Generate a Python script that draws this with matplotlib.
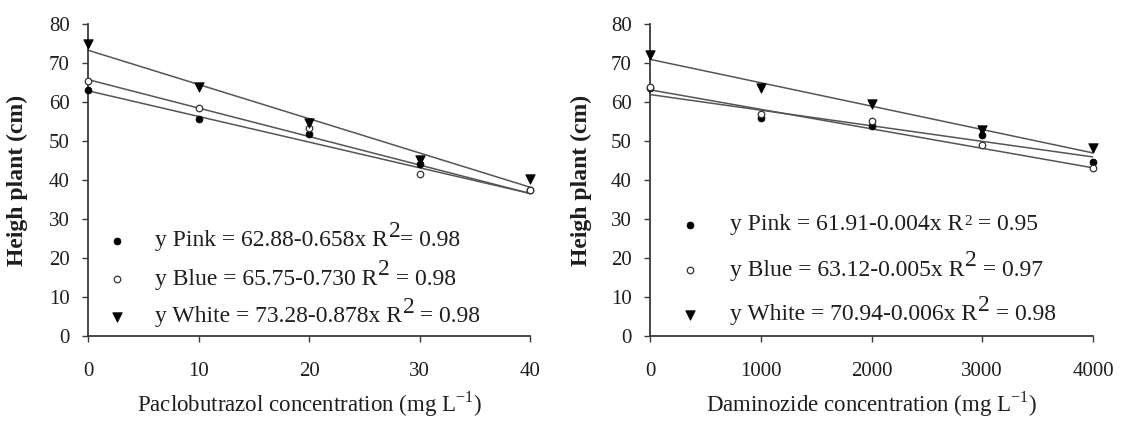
import matplotlib
matplotlib.use("Agg")
import matplotlib.pyplot as plt
import numpy as np

# Paclobutrazol doses (mg L-1) and plant heights (cm)
pac_dose = [0, 10, 20, 30, 40]
pac_pink = [63.1, 55.6, 51.7, 44.0, 37.4]
pac_blue = [65.5, 58.5, 53.3, 41.5, 37.5]
pac_white = [74.9, 63.9, 54.6, 45.0, 40.3]

# Daminozide doses (mg L-1) and plant heights (cm)
dam_dose = [0, 1000, 2000, 3000, 4000]
dam_pink = [63.5, 55.8, 53.8, 51.5, 44.7]
dam_blue = [63.9, 56.8, 55.1, 49.1, 43.2]
dam_white = [72.0, 63.7, 59.4, 52.8, 48.3]

# Regression coefficients (intercept, slope)
pac_fit = {"Pink": (62.88, -0.658), "Blue": (65.75, -0.730), "White": (73.28, -0.878)}
dam_fit = {"Pink": (61.91, -0.004), "Blue": (63.12, -0.005), "White": (70.94, -0.006)}

# Equation labels: text before the exponent, exponent, text after, exponent size
pac_eq = [
    ("y Pink = 62.88-0.658x R", "2", "= 0.98", 17),
    ("y Blue = 65.75-0.730 R", "2", " = 0.98", 17),
    ("y White = 73.28-0.878x R", "2", " = 0.98", 17),
]
dam_eq = [
    ("y Pink = 61.91-0.004x R", "2", " = 0.95", 11),
    ("y Blue = 63.12-0.005x R", "2", " = 0.97", 17),
    ("y White = 70.94-0.006x R", "2", " = 0.98", 17),
]

yticks = [0, 10, 20, 30, 40, 50, 60, 70, 80]
pac_xticks = [0, 10, 20, 30, 40]
dam_xticks = [0, 1000, 2000, 3000, 4000]

plt.rcParams["font.family"] = ["Liberation Serif", "DejaVu Serif"]
plt.rcParams["mathtext.fontset"] = "custom"
plt.rcParams["mathtext.rm"] = "Liberation Serif"

TXT = "#1e1e1e"
LINE = "#555555"
AX = "#3a3a3a"
EQ_SIZE = 17

fig = plt.figure(figsize=(11.26, 4.23), dpi=100)
W, H = 1126, 423


def make_axes(x0, x1):
    return fig.add_axes([x0 / W, 1 - 336 / H, (x1 - x0) / W, 312 / H])


ax1 = make_axes(88, 530)
ax2 = make_axes(650, 1093)

styles = {
    "Pink": dict(marker="o", s=24, facecolor="black", edgecolor="black", linewidths=0.6),
    "Blue": dict(marker="o", s=22, facecolor="white", edgecolor="#333333", linewidths=0.9),
    "White": dict(marker="v", s=46, facecolor="black", edgecolor="black", linewidths=0.6),
}


def panel(ax, dose, series, fit, eqs, xticks, xlabel, mk_x, txt_x, rows, ylab_x):
    xmax = xticks[-1]
    xx = np.array([0, xmax], dtype=float)
    for name in ["Pink", "Blue", "White"]:
        b0, b1 = fit[name]
        ax.plot(xx, b0 + b1 * xx, color=LINE, lw=1.1, zorder=2)
    for name, vals in series.items():
        ax.scatter(dose, vals, zorder=3, clip_on=False, **styles[name])

    names = ["Pink", "Blue", "White"]
    for (base, sup, tail, ssz), name, yv in zip(eqs, names, rows):
        ax.scatter([mk_x], [yv], zorder=3, clip_on=False, **styles[name])
        t = ax.text(txt_x, yv, base, fontsize=EQ_SIZE, color=TXT,
                    va="center", ha="left")
        raise_pts = 7 if ssz >= 14 else 5
        s = ax.annotate(sup, xy=(1, 0), xycoords=t, xytext=(0.5, raise_pts),
                        textcoords="offset points", fontsize=ssz, color=TXT,
                        va="bottom", ha="left")
        ax.annotate(tail, xy=(1, 0), xycoords=s, xytext=(0, -raise_pts),
                    textcoords="offset points", fontsize=EQ_SIZE, color=TXT,
                    va="bottom", ha="left")

    ax.set_xlim(0, xmax)
    ax.set_ylim(0, 80)
    ax.set_xticks(xticks)
    ax.set_yticks(yticks)
    for sp in ["top", "right"]:
        ax.spines[sp].set_visible(False)
    for sp in ["left", "bottom"]:
        ax.spines[sp].set_color(AX)
        ax.spines[sp].set_linewidth(1.3)
    ax.tick_params(axis="both", direction="out", length=4, width=1,
                   color=AX, labelsize=15, labelcolor=TXT)
    ax.tick_params(axis="x", pad=15)
    ax.tick_params(axis="y", pad=9)
    ax.set_ylabel("Heigh plant (cm)", fontsize=17, fontweight="bold", color=TXT)
    ax.yaxis.set_label_coords(ylab_x, 0.5)
    ax.set_xlabel(xlabel, fontsize=16.5, color=TXT, labelpad=6)


panel(ax1, pac_dose, {"Pink": pac_pink, "Blue": pac_blue, "White": pac_white},
      pac_fit, pac_eq, pac_xticks,
      r"Paclobutrazol concentration (mg L$^{\mathregular{-1}}$)",
      2.6, 6.06, [24.4, 14.6, 4.9], (28 - 88) / 442)
panel(ax2, dam_dose, {"Pink": dam_pink, "Blue": dam_blue, "White": dam_white},
      dam_fit, dam_eq, dam_xticks,
      r"Daminozide concentration (mg L$^{\mathregular{-1}}$)",
      361, 722, [28.5, 16.9, 5.4], (592 - 650) / 443)

fig.savefig("out.png", dpi=100, facecolor="white")
